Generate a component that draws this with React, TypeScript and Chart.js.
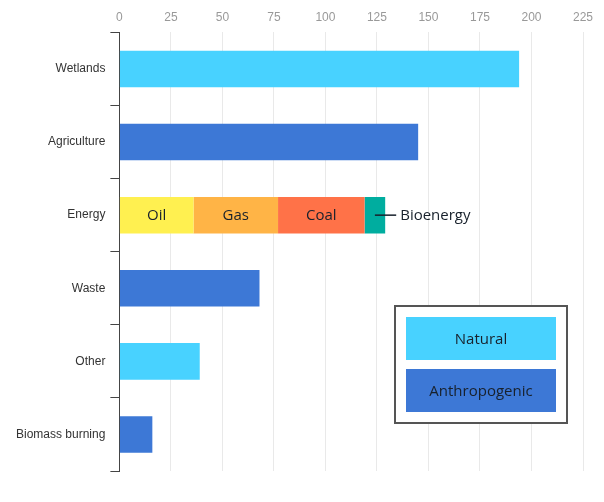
import React, { useEffect, useRef } from "react";
import { Chart, registerables } from "chart.js";

Chart.register(...registerables);

const categories = ["Wetlands", "Agriculture", "Energy", "Waste", "Other", "Biomass burning"];
const naturalValues = [194, null, null, null, 39, null];
const anthropogenicValues = [null, 145, null, 68, null, 16];
const energySources = ["Oil", "Gas", "Coal", "Bioenergy"];
const energyValues = [36, 41, 42, 10];
const energyIndex = 2;
const legendLabels = ["Natural", "Anthropogenic"];
const xMin = 0;
const xMax = 225;
const xStep = 25;

const naturalColor = "#48D2FF";
const anthroColor = "#3D78D6";
const energyColors = ["#FFF050", "#FFB446", "#FF7248", "#00AD9F"];
const textDark = "#18212C";
const uiFont = "'Open Sans', 'Noto Sans', sans-serif";

const annotationPlugin = {
  id: "annotations",
  afterDatasetsDraw(chart: any) {
    const ctx = chart.ctx;
    ctx.save();
    ctx.font = `15px ${uiFont}`;
    ctx.fillStyle = textDark;
    ctx.textBaseline = "middle";
    energySources.forEach((name, i) => {
      const meta = chart.getDatasetMeta(2 + i);
      const el = meta.data[energyIndex];
      if (!el) return;
      const { x, y, base } = el.getProps(["x", "y", "base"], true);
      if (i < energySources.length - 1) {
        ctx.textAlign = "center";
        ctx.fillText(name, (x + base) / 2, y + 1);
      } else {
        const cx = (x + base) / 2;
        ctx.strokeStyle = textDark;
        ctx.lineWidth = 1.5;
        ctx.beginPath();
        ctx.moveTo(cx, y);
        ctx.lineTo(x + 11, y);
        ctx.stroke();
        ctx.textAlign = "left";
        ctx.fillText(name, x + 15, y + 1);
      }
    });
    ctx.restore();
  },
  afterDraw(chart: any) {
    const ctx = chart.ctx;
    const area = chart.chartArea;
    const boxW = 172;
    const boxH = 117;
    const right = area.right - 16;
    const bottom = area.bottom - 48;
    const left = right - boxW;
    const top = bottom - boxH;
    ctx.save();
    ctx.strokeStyle = "#555555";
    ctx.lineWidth = 2;
    ctx.fillStyle = "#ffffff";
    ctx.fillRect(left, top, boxW, boxH);
    ctx.strokeRect(left, top, boxW, boxH);
    const colors = [naturalColor, anthroColor];
    const inset = 11;
    const itemH = 43;
    const gap = 9;
    legendLabels.forEach((label, i) => {
      const iy = top + inset + i * (itemH + gap);
      ctx.fillStyle = colors[i];
      ctx.fillRect(left + inset, iy, boxW - 2 * inset, itemH);
      ctx.fillStyle = textDark;
      ctx.font = `15px ${uiFont}`;
      ctx.textAlign = "center";
      ctx.textBaseline = "middle";
      ctx.fillText(label, left + boxW / 2, iy + itemH / 2 + 1);
    });
    ctx.restore();
  },
};

export default function App() {
  const canvasRef = useRef<HTMLCanvasElement | null>(null);

  useEffect(() => {
    if (!canvasRef.current) return;
    const datasets: any[] = [
      { label: "Natural", data: naturalValues, backgroundColor: naturalColor },
      { label: "Anthropogenic", data: anthropogenicValues, backgroundColor: anthroColor },
      ...energySources.map((name, i) => ({
        label: name,
        data: categories.map((_, ci) => (ci === energyIndex ? energyValues[i] : null)),
        backgroundColor: energyColors[i],
      })),
    ];
    const chart = new Chart(canvasRef.current, {
      type: "bar",
      data: { labels: categories, datasets },
      plugins: [annotationPlugin],
      options: {
        indexAxis: "y",
        animation: false,
        responsive: true,
        maintainAspectRatio: false,
        datasets: { bar: { barPercentage: 0.5, categoryPercentage: 1 } },
        layout: { padding: { left: 11, right: 21, top: 2, bottom: 31 } },
        plugins: { legend: { display: false }, tooltip: { enabled: false } },
        scales: {
          x: {
            position: "top",
            stacked: true,
            min: xMin,
            max: xMax,
            ticks: {
              stepSize: xStep,
              color: "#999999",
              padding: 8,
              font: { family: "'Liberation Sans', Arial, sans-serif", size: 12 },
            },
            grid: { color: "#e9e9e9", drawTicks: false },
            border: { display: false },
          },
          y: {
            stacked: true,
            ticks: {
              color: "#333333",
              padding: 5,
              font: { family: "'Liberation Sans', Arial, sans-serif", size: 12 },
            },
            grid: { drawOnChartArea: false, drawTicks: true, tickLength: 9, color: "#444444", offset: true },
            border: { display: true, color: "#444444", width: 1 },
          },
        },
      } as any,
    });
    return () => chart.destroy();
  }, []);

  return (
    <div style={{ position: "fixed", left: 0, top: 0, width: 604, height: 502, background: "#fff" }}>
      <canvas ref={canvasRef} />
    </div>
  );
}
